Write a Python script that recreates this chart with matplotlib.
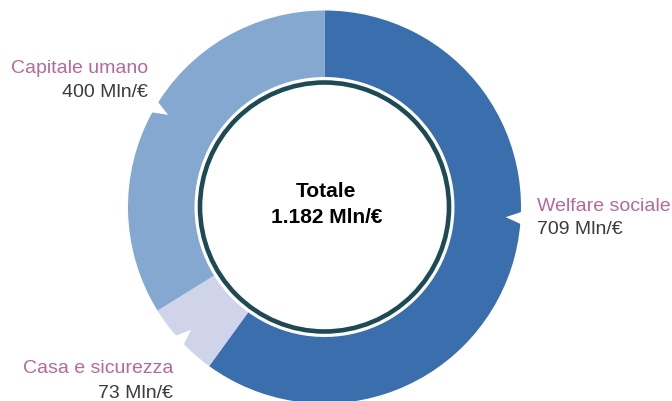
import matplotlib
matplotlib.use("Agg")
import matplotlib.pyplot as plt
import numpy as np
from matplotlib.patches import Circle, Polygon

plt.rcParams['font.family'] = ['Liberation Sans', 'DejaVu Sans']

# -----------------------------------------------------------
# data
# -----------------------------------------------------------

labels = ["Welfare sociale", "Casa e sicurezza", "Capitale umano"]
values = [709, 73, 400]
colors = ["#3a6eac", "#d0d4ea", "#84a8cf"]
total_label = "1.182 Mln/€"

# -----------------------------------------------------------
# layout (pixel coords, y up)
# -----------------------------------------------------------

W, H = 672, 401
cx, cy = 324.5, H - 207
r_out = 196.5
r_in = 130
r_circ = 124.5

pink = "#b5699d"
grey = "#3c3c3c"
teal = "#1d4a55"

fig = plt.figure(figsize=(W/100, H/100), dpi=100)
ax = fig.add_axes([0, 0, 1, 1])

ax.pie(values, colors=colors, startangle=90, counterclock=False,
       center=(cx, cy), radius=r_out,
       wedgeprops=dict(width=r_out - r_in, linewidth=0))

# inner circle
ax.add_patch(Circle((cx, cy), r_circ, facecolor="white",
                    edgecolor=teal, linewidth=3.3, zorder=3))

# small notches on the outer edge, pointing at the labels
notch_angles = [-3.2, 222.6, 149.5]
for a in notch_angles:
    t = np.deg2rad(a)
    u = np.array([np.cos(t), np.sin(t)])
    n = np.array([-u[1], u[0]])
    base = np.array([cx, cy]) + u * (r_out + 4)
    tip = np.array([cx, cy]) + u * (r_out - 15)
    pts = [base + n * 7.5, base - n * 7.5, tip]
    ax.add_patch(Polygon(pts, closed=True, facecolor="white",
                         edgecolor="none", zorder=4))

# center text
ax.text(cx + 1, H - 197, "Totale", ha="center", va="baseline",
        fontsize=15, fontweight="bold", color="black", zorder=5)
ax.text(cx + 2, H - 223, total_label, ha="center", va="baseline",
        fontsize=15, fontweight="bold", color="black", zorder=5)

# labels
lab_pos = [
    (537, 211, 234, "left"),
    (173, 373, 398, "right"),
    (148, 73, 97, "right"),
]
for (x, y1, y2, ha), lab, v in zip(lab_pos, labels, values):
    ax.text(x, H - y1, lab, ha=ha, va="baseline", fontsize=14, color=pink)
    ax.text(x, H - y2, f"{v} Mln/€", ha=ha, va="baseline",
            fontsize=14, color=grey)

ax.set_xlim(0, W)
ax.set_ylim(0, H)
ax.set_aspect("auto")
ax.axis("off")

fig.savefig("out.png", dpi=100)
